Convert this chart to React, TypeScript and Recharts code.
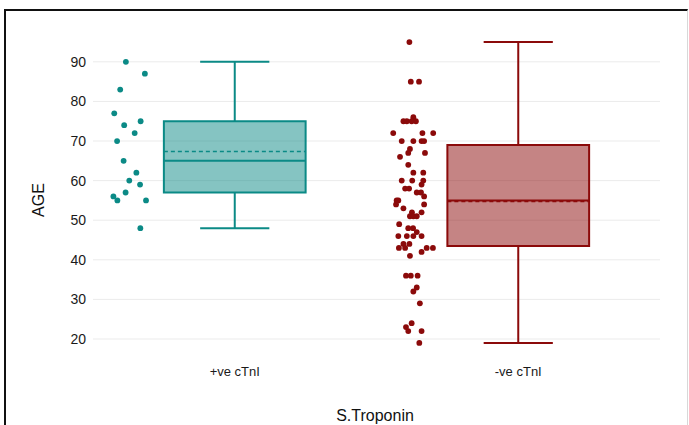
import {
  CartesianGrid,
  ComposedChart,
  ReferenceArea,
  ReferenceLine,
  Scatter,
  XAxis,
  YAxis,
} from "recharts";

const groups = ["+ve cTnI", "-ve cTnI"];
const ageTicks = [20, 30, 40, 50, 60, 70, 80, 90];

// individual ages; jitter is the horizontal offset from the category centre (category units)
const posAge = [90, 87, 83, 77, 75, 74, 72, 70, 65, 62, 60, 59, 57, 56, 55, 55, 48];
const posJitter = [
  -0.384, -0.317, -0.404, -0.425, -0.332, -0.39, -0.353, -0.415, -0.392, -0.347, -0.372, -0.334, -0.385,
  -0.428, -0.414, -0.313, -0.333,
];

const negAge = [
  95, 85, 85, 76, 75, 75, 75, 75, 72, 72, 72, 70, 70, 70, 70, 68, 67, 67, 66, 64, 62, 62, 60, 60, 60, 59,
  58, 58, 57, 57, 56, 55, 55, 54, 54, 53, 52, 52, 51, 51, 51, 49, 48, 48, 47, 46, 46, 46, 46, 44, 44, 43,
  43, 43, 43, 42, 41, 36, 36, 36, 33, 32, 29, 24, 23, 22, 22, 19,
];
const negJitter = [
  -0.384, -0.379, -0.35, -0.37, -0.405, -0.393, -0.376, -0.361, -0.441, -0.338, -0.3, -0.411, -0.37, -0.341,
  -0.332, -0.382, -0.388, -0.329, -0.417, -0.388, -0.37, -0.335, -0.411, -0.374, -0.335, -0.341, -0.399,
  -0.385, -0.358, -0.343, -0.332, -0.429, -0.423, -0.431, -0.332, -0.405, -0.341, -0.375, -0.382, -0.37,
  -0.358, -0.42, -0.388, -0.371, -0.358, -0.423, -0.393, -0.341, -0.37, -0.405, -0.384, -0.421, -0.399,
  -0.323, -0.301, -0.341, -0.382, -0.396, -0.379, -0.355, -0.358, -0.37, -0.347, -0.376, -0.396, -0.388,
  -0.341, -0.349,
];

// box statistics per group
const boxMin = [48, 19];
const boxQ1 = [57, 43.5];
const boxMedian = [65, 55];
const boxQ3 = [75, 69];
const boxMax = [90, 95];
const boxMean = [67.35, 54.7];

const COLORS = ["#0b8a86", "#8b0a0a"];
const BOX_HALF = 0.25;
const CAP_HALF = 0.122;
const FONT = "'Liberation Sans', Arial, sans-serif";

const posPoints = posAge.map((age, i) => ({ x: 1 + posJitter[i], y: age }));
const negPoints = negAge.map((age, i) => ({ x: 2 + negJitter[i], y: age }));

const dot = (color: string) => (p: any) => <circle cx={p.cx} cy={p.cy} r={2.9} fill={color} />;

export default function App() {
  const boxes = groups.flatMap((_, i) => {
    const c = i + 1;
    const color = COLORS[i];
    return [
      <ReferenceLine
        key={`wu${i}`}
        segment={[{ x: c, y: boxQ3[i] }, { x: c, y: boxMax[i] }]}
        stroke={color}
        strokeWidth={2}
      />,
      <ReferenceLine
        key={`wl${i}`}
        segment={[{ x: c, y: boxMin[i] }, { x: c, y: boxQ1[i] }]}
        stroke={color}
        strokeWidth={2}
      />,
      <ReferenceLine
        key={`cu${i}`}
        segment={[{ x: c - CAP_HALF, y: boxMax[i] }, { x: c + CAP_HALF, y: boxMax[i] }]}
        stroke={color}
        strokeWidth={2}
      />,
      <ReferenceLine
        key={`cl${i}`}
        segment={[{ x: c - CAP_HALF, y: boxMin[i] }, { x: c + CAP_HALF, y: boxMin[i] }]}
        stroke={color}
        strokeWidth={2}
      />,
      <ReferenceArea
        key={`b${i}`}
        x1={c - BOX_HALF}
        x2={c + BOX_HALF}
        y1={boxQ1[i]}
        y2={boxQ3[i]}
        fill={color}
        fillOpacity={0.5}
        stroke={color}
        strokeWidth={2}
      />,
      <ReferenceLine
        key={`md${i}`}
        segment={[{ x: c - BOX_HALF, y: boxMedian[i] }, { x: c + BOX_HALF, y: boxMedian[i] }]}
        stroke={color}
        strokeWidth={2}
      />,
      <ReferenceLine
        key={`mn${i}`}
        segment={[{ x: c - BOX_HALF, y: boxMean[i] }, { x: c + BOX_HALF, y: boxMean[i] }]}
        stroke={color}
        strokeWidth={1.5}
        strokeDasharray="4 3"
      />,
    ];
  });

  return (
    <div style={{ position: "absolute", left: 0, top: 0, width: 689, height: 425, background: "#fff", fontFamily: FONT }}>
      <div
        style={{
          position: "absolute",
          left: 4,
          top: 9,
          width: 681,
          height: 430,
          borderTop: "2px solid #111",
          borderLeft: "2px solid #111",
          borderRight: "1px solid #d8d8d8",
        }}
      />
      <div style={{ position: "absolute", left: 0, top: 0 }}>
        <ComposedChart width={689} height={425} margin={{ top: 27, right: 29, bottom: 0, left: 0 }}>
          <CartesianGrid vertical={false} horizontalValues={ageTicks} stroke="#ebebeb" strokeWidth={1} />
          <XAxis
            dataKey="x"
            type="number"
            domain={[0.5, 2.5]}
            ticks={[1, 2]}
            tickFormatter={(v: number) => groups[v - 1]}
            axisLine={false}
            tickLine={false}
            tickSize={0}
            tickMargin={9}
            height={67}
            tick={{ fontSize: 13, fill: "#1a1a1a", fontFamily: FONT }}
          />
          <YAxis
            dataKey="y"
            type="number"
            domain={[15.2, 98.8]}
            ticks={ageTicks}
            axisLine={false}
            tickLine={false}
            tickSize={0}
            tickMargin={7}
            width={93}
            tick={{ fontSize: 14, fill: "#1a1a1a", fontFamily: FONT }}
          />
          {boxes}
          <Scatter data={posPoints} shape={dot(COLORS[0])} isAnimationActive={false} />
          <Scatter data={negPoints} shape={dot(COLORS[1])} isAnimationActive={false} />
        </ComposedChart>
      </div>
      <svg width={689} height={425} style={{ position: "absolute", left: 0, top: 0, pointerEvents: "none" }}>
        <text x={38} y={200} transform="rotate(-90 38 200)" textAnchor="middle" dominantBaseline="central" fontSize={16} fill="#111">
          AGE
        </text>
        <text x={375} y={415} textAnchor="middle" dominantBaseline="central" fontSize={16} fill="#111">
          S.Troponin
        </text>
      </svg>
    </div>
  );
}
